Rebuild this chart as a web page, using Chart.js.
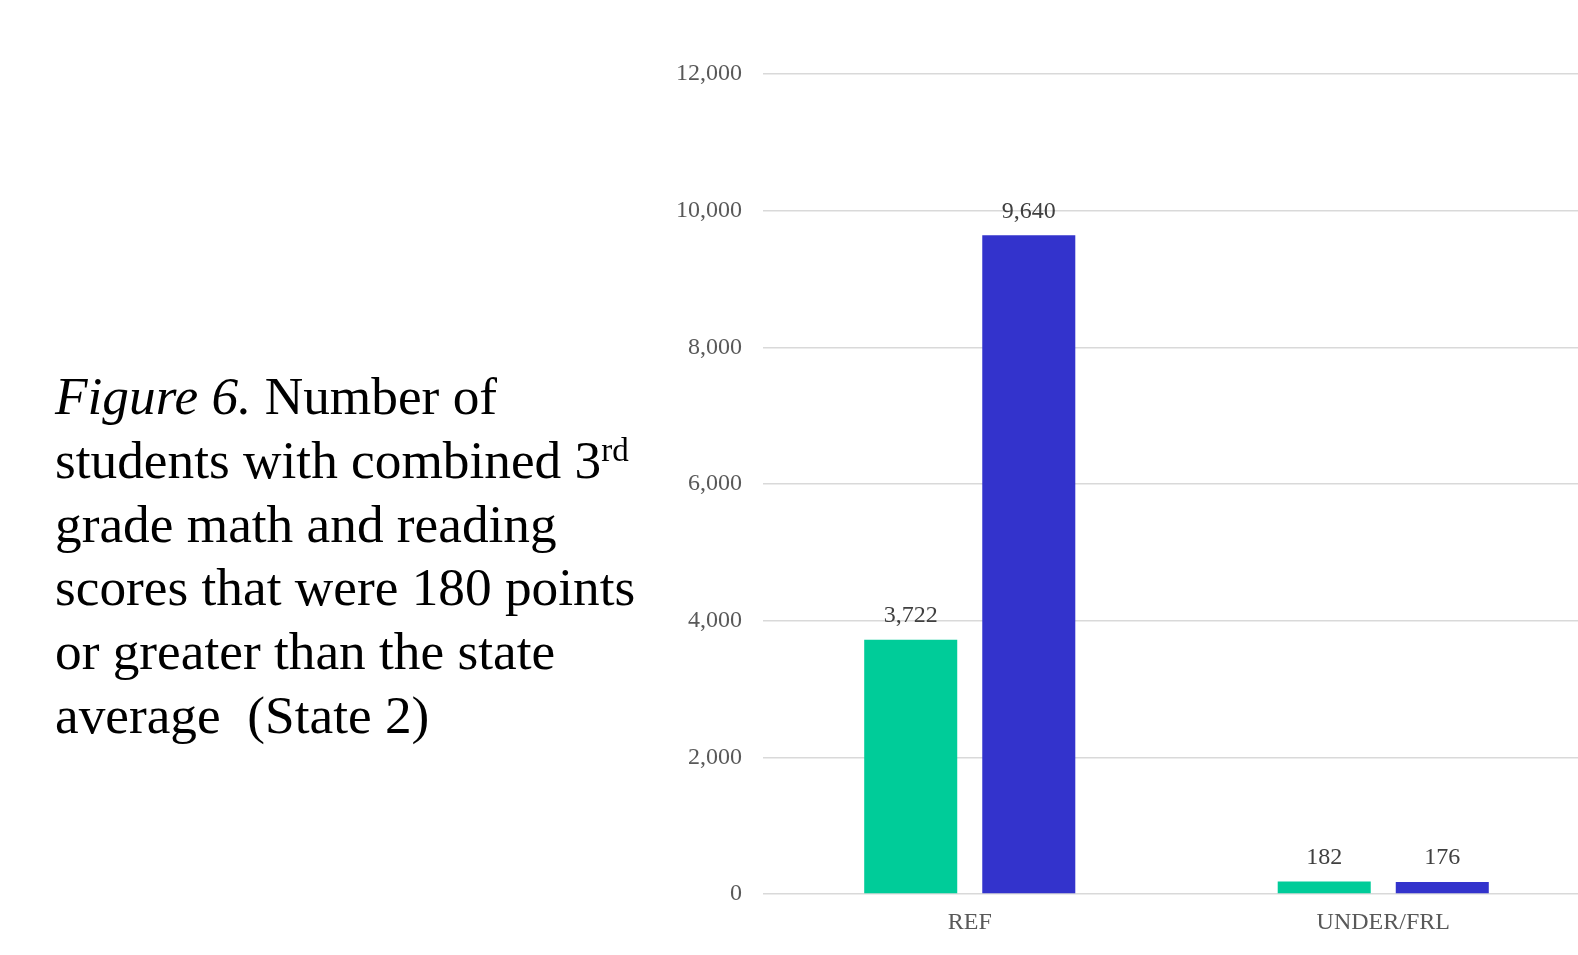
<!DOCTYPE html>
<html>
<head>
<meta charset="utf-8">
<script src="https://cdn.jsdelivr.net/npm/chart.js@4/dist/chart.umd.min.js"></script>
<style>
  html, body { margin: 0; padding: 0; background: #fff; overflow: hidden; }
  body { width: 1578px; height: 955px; position: relative; }
  #caption {
    position: absolute; left: 55px; top: 365px; z-index: 2;
    font-family: "Liberation Serif", "Times New Roman", serif;
    font-size: 53.3px; line-height: 63.8px; color: #000; white-space: nowrap;
  }
  #caption .sup { position: relative; top: -17px; font-size: 33px; line-height: 0; }
  #wrap { position: absolute; left: 0; top: 0; width: 1600px; height: 955px; }
</style>
</head>
<body>
<div id="caption"><i>Figure 6.</i> Number of<br>students with combined 3<span class="sup">rd</span><br>grade math and reading<br>scores that were 180 points<br>or greater than the state<br>average&nbsp; (State 2)</div>
<div id="wrap"><canvas id="myChart"></canvas></div>
<script>
const categories = ['REF', 'UNDER/FRL'];
const seriesA = [3722, 182];
const seriesB = [9640, 176];
const yTicks = [0, 2000, 4000, 6000, 8000, 10000, 12000];

const fontFamily = '"Liberation Serif", "Times New Roman", serif';

function fmt(v) {
  return Number(v).toLocaleString('en-US');
}

// value labels above each bar
const barValues = {
  id: 'barValues',
  afterDatasetsDraw(chart) {
    const ctx = chart.ctx;
    ctx.save();
    ctx.font = '24px ' + fontFamily;
    ctx.fillStyle = '#404040';
    ctx.textAlign = 'center';
    ctx.textBaseline = 'middle';
    chart.data.datasets.forEach((ds, i) => {
      chart.getDatasetMeta(i).data.forEach((bar, j) => {
        ctx.fillText(fmt(ds.data[j]), bar.x, bar.y - 24);
      });
    });
    ctx.restore();
  }
};

const data = {
  labels: categories,
  datasets: [{
    label: 'Series 1',
    data: seriesA,
    backgroundColor: '#00cc99',
    categoryPercentage: 0.571,
    barPercentage: 0.788
  }, {
    label: 'Series 2',
    data: seriesB,
    backgroundColor: '#3333cc',
    categoryPercentage: 0.571,
    barPercentage: 0.788
  }]
};

const config = {
  type: 'bar',
  data: data,
  options: {
    responsive: true,
    maintainAspectRatio: false,
    animation: false,
    layout: { padding: { left: 663, right: 10, top: 74, bottom: 16 } },
    plugins: {
      legend: { display: false },
      tooltip: { enabled: false }
    },
    scales: {
      x: {
        grid: { display: false, drawTicks: false },
        border: { display: false },
        ticks: { color: '#595959', padding: 14, font: { family: fontFamily, size: 24 } },
        afterFit(scale) { scale.height = 45; }
      },
      y: {
        min: 0,
        max: 12000,
        afterBuildTicks(scale) { scale.ticks = yTicks.map(v => ({ value: v })); },
        grid: { color: '#d9d9d9', lineWidth: 1.5, drawTicks: false },
        border: { display: false },
        ticks: {
          color: '#595959', padding: 21,
          font: { family: fontFamily, size: 24 },
          callback: v => fmt(v)
        },
        afterFit(scale) { scale.width = 100; }
      }
    }
  },
  plugins: [barValues]
};

var myChart = new Chart(document.getElementById('myChart'), config);
</script>
</body>
</html>
